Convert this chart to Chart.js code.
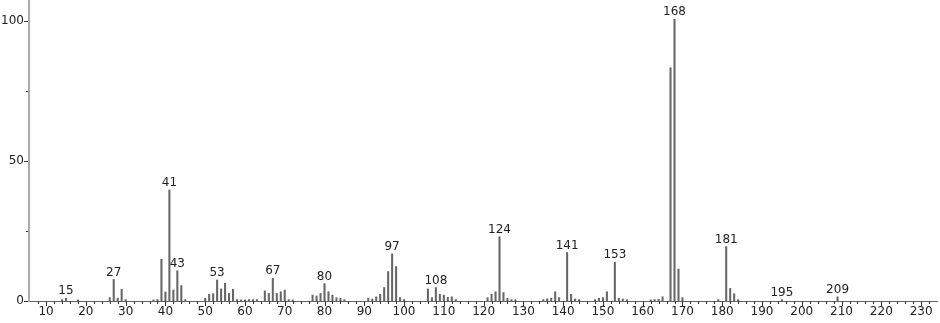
<!DOCTYPE html>
<html>
<head>
<meta charset="utf-8">
<script src="https://cdn.jsdelivr.net/npm/chart.js@4"></script>
<style>
  body { margin: 0; background: #fff; }
</style>
</head>
<body>
<canvas id="spectrum" width="940" height="323"></canvas>
<script>
// m/z values and relative intensities (%)
const mz = [14, 15, 18, 26, 27, 28, 29, 30, 37, 38, 39, 40, 41, 42, 43, 44, 45,
  50, 51, 52, 53, 54, 55, 56, 57, 58, 59, 60, 61, 62, 63, 65, 66, 67, 68, 69, 70, 71, 72,
  77, 78, 79, 80, 81, 82, 83, 84, 85, 91, 92, 93, 94, 95, 96, 97, 98, 99, 100,
  106, 107, 108, 109, 110, 111, 112, 113, 121, 122, 123, 124, 125, 126, 127, 128,
  135, 136, 137, 138, 139, 141, 142, 143, 144, 148, 149, 150, 151, 153, 154, 155, 156,
  162, 163, 164, 165, 167, 168, 169, 170, 179, 181, 182, 183, 184, 195, 209];
const intensity = [0.5, 1.0, 0.4, 1.2, 7.7, 1.0, 4.2, 0.5, 0.4, 0.5, 14.9, 3.2, 39.6, 3.9, 10.8, 5.5, 0.5,
  1.0, 2.4, 2.6, 7.5, 4.3, 6.3, 2.7, 4.2, 0.5, 0.4, 0.4, 0.5, 0.5, 0.5, 3.6, 2.7, 8.1, 2.7, 3.3, 3.9, 0.5, 0.4,
  2.1, 1.8, 2.7, 6.2, 3.3, 2.1, 1.2, 1.0, 0.5, 1.0, 0.7, 1.5, 2.4, 4.8, 10.5, 16.8, 12.3, 1.2, 0.5,
  4.3, 1.2, 4.8, 2.4, 2.1, 1.3, 1.5, 0.5, 1.2, 2.4, 3.3, 22.9, 3.0, 1.0, 0.5, 0.5,
  0.5, 0.8, 1.0, 3.3, 1.2, 17.3, 2.4, 0.7, 0.5, 0.5, 1.0, 1.2, 3.3, 13.8, 1.0, 0.7, 0.5,
  0.4, 0.5, 0.6, 1.5, 83.2, 100.5, 11.4, 1.2, 0.5, 19.4, 4.5, 2.6, 0.5, 0.5, 1.5];
const labeledPeaks = [15, 27, 41, 43, 53, 67, 80, 97, 108, 124, 141, 153, 168, 181, 195, 209];
const yTicks = [0, 50, 100];

const font = '12px "DejaVu Sans"';

const axisMarks = {
  id: 'axisMarks',
  afterDatasetsDraw(chart) {
    const { ctx, chartArea, scales: { x, y } } = chart;
    ctx.save();
    ctx.strokeStyle = '#333';
    ctx.lineWidth = 1;
    ctx.beginPath();
    for (let v = 8; v <= 232; v += 2) {
      const px = Math.round(x.getPixelForValue(v)) + 0.5;
      const len = v % 10 === 0 ? 5 : 3;
      ctx.moveTo(px, chartArea.bottom);
      ctx.lineTo(px, chartArea.bottom + len);
    }
    for (let v = 0; v <= 100; v += 25) {
      const py = Math.round(y.getPixelForValue(v)) + 0.5;
      const len = v % 50 === 0 ? 4 : 2;
      ctx.moveTo(chartArea.left - 1, py);
      ctx.lineTo(chartArea.left - 1 - len, py);
    }
    ctx.stroke();

    // peak labels
    ctx.fillStyle = '#222';
    ctx.font = font;
    ctx.textAlign = 'center';
    ctx.textBaseline = 'bottom';
    labeledPeaks.forEach(m => {
      const i = mz.indexOf(m);
      ctx.fillText(String(m), x.getPixelForValue(m), y.getPixelForValue(intensity[i]) - 1);
    });
    ctx.restore();
  }
};

new Chart(document.getElementById('spectrum'), {
  type: 'bar',
  data: {
    datasets: [{
      data: mz.map((m, i) => ({ x: m, y: intensity[i] })),
      backgroundColor: '#666',
      barThickness: 1.4
    }]
  },
  options: {
    responsive: false,
    animation: false,
    layout: { padding: { top: 1, right: 3, left: 0, bottom: 0 } },
    plugins: { legend: { display: false }, tooltip: { enabled: false } },
    scales: {
      x: {
        type: 'linear',
        offset: false,
        min: 5.7,
        max: 234,
        afterFit: s => { s.height = 22; s.paddingLeft = 0; s.paddingRight = 0; },
        afterBuildTicks: s => {
          const t = [];
          for (let v = 10; v <= 230; v += 10) t.push({ value: v });
          s.ticks = t;
        },
        grid: { display: false, drawTicks: false },
        border: { display: true, color: '#666', width: 1 },
        ticks: {
          padding: 4,
          color: '#222',
          font: { family: 'DejaVu Sans', size: 12 },
          maxRotation: 0,
          autoSkip: false
        }
      },
      y: {
        min: 0,
        max: 107,
        afterFit: s => { s.width = 29; s.paddingTop = 0; s.paddingBottom = 0; },
        afterBuildTicks: s => { s.ticks = yTicks.map(v => ({ value: v })); },
        grid: { display: false, drawTicks: false },
        border: { display: true, color: '#aaa', width: 2 },
        ticks: {
          padding: 5,
          color: '#222',
          font: { family: 'DejaVu Sans', size: 12 }
        }
      }
    }
  },
  plugins: [axisMarks]
});
</script>
</body>
</html>
